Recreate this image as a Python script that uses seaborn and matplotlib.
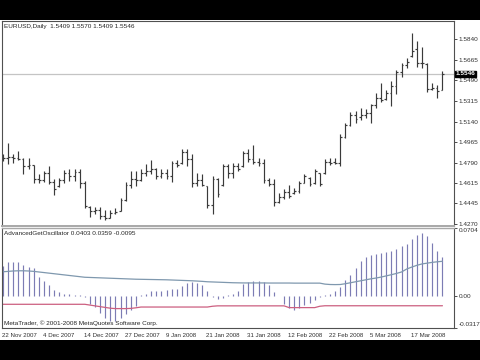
import matplotlib
matplotlib.use("Agg")
import matplotlib.pyplot as plt
import matplotlib.transforms as mtransforms
import seaborn as sns
import numpy as np
import pandas as pd

sns.set_style("white")
plt.rcParams['font.family'] = ['Liberation Sans', 'DejaVu Sans']

# ---------------- data ----------------
opens = [1.4840, 1.4830, 1.4840, 1.4830, 1.4825, 1.4760, 1.4770, 1.4650, 1.4640, 1.4700,
         1.4630, 1.4590, 1.4640, 1.4700, 1.4680, 1.4710, 1.4620, 1.4410, 1.4380, 1.4390,
         1.4340, 1.4320, 1.4360, 1.4380, 1.4470, 1.4600, 1.4650, 1.4640, 1.4700, 1.4720,
         1.4740, 1.4680, 1.4700, 1.4680, 1.4790, 1.4790, 1.4880, 1.4820, 1.4620, 1.4640,
         1.4590, 1.4430, 1.4650, 1.4600, 1.4760, 1.4700, 1.4760, 1.4760, 1.4870, 1.4820,
         1.4800, 1.4790, 1.4640, 1.4610, 1.4460, 1.4500, 1.4540, 1.4530, 1.4550, 1.4620,
         1.4660, 1.4620, 1.4700, 1.4700, 1.4800, 1.4800, 1.4790, 1.5010, 1.5110, 1.5200,
         1.5180, 1.5200, 1.5210, 1.5280, 1.5340, 1.5330, 1.5380, 1.5440, 1.5560, 1.5620,
         1.5700, 1.5760, 1.5640, 1.5630, 1.5420, 1.5430, 1.5409]
highs = [1.4866, 1.4960, 1.4866, 1.4891, 1.4831, 1.4831, 1.4772, 1.4694, 1.4720, 1.4763,
         1.4651, 1.4660, 1.4729, 1.4737, 1.4737, 1.4737, 1.4634, 1.4420, 1.4411, 1.4411,
         1.4386, 1.4386, 1.4403, 1.4489, 1.4626, 1.4720, 1.4720, 1.4737, 1.4780, 1.4814,
         1.4746, 1.4737, 1.4737, 1.4806, 1.4814, 1.4908, 1.4908, 1.4866, 1.4703, 1.4694,
         1.4591, 1.4677, 1.4660, 1.4780, 1.4780, 1.4789, 1.4789, 1.4891, 1.4908, 1.4943,
         1.4831, 1.4823, 1.4660, 1.4651, 1.4531, 1.4566, 1.4600, 1.4574, 1.4634, 1.4694,
         1.4669, 1.4737, 1.4703, 1.4823, 1.4831, 1.4831, 1.5037, 1.5131, 1.5225, 1.5234,
         1.5260, 1.5251, 1.5294, 1.5380, 1.5465, 1.5406, 1.5483, 1.5577, 1.5637, 1.5680,
         1.5894, 1.5825, 1.5774, 1.5637, 1.5465, 1.5448, 1.5570]
lows = [1.4806, 1.4780, 1.4789, 1.4814, 1.4695, 1.4737, 1.4617, 1.4617, 1.4626, 1.4609,
        1.4514, 1.4583, 1.4617, 1.4634, 1.4634, 1.4574, 1.4403, 1.4326, 1.4351, 1.4309,
        1.4300, 1.4317, 1.4351, 1.4377, 1.4463, 1.4574, 1.4591, 1.4634, 1.4677, 1.4694,
        1.4651, 1.4660, 1.4651, 1.4626, 1.4754, 1.4780, 1.4763, 1.4583, 1.4591, 1.4591,
        1.4403, 1.4351, 1.4497, 1.4591, 1.4660, 1.4660, 1.4720, 1.4754, 1.4797, 1.4780,
        1.4763, 1.4617, 1.4591, 1.4420, 1.4446, 1.4480, 1.4489, 1.4523, 1.4531, 1.4617,
        1.4591, 1.4609, 1.4591, 1.4694, 1.4771, 1.4780, 1.4763, 1.5003, 1.5105, 1.5131,
        1.5157, 1.5174, 1.5131, 1.5260, 1.5303, 1.5320, 1.5277, 1.5371, 1.5517, 1.5594,
        1.5688, 1.5603, 1.5594, 1.5389, 1.5406, 1.5337, 1.5409]
closes = [1.4830, 1.4840, 1.4830, 1.4825, 1.4760, 1.4770, 1.4650, 1.4640, 1.4700, 1.4630,
          1.4570, 1.4640, 1.4700, 1.4680, 1.4710, 1.4620, 1.4420, 1.4380, 1.4390, 1.4340,
          1.4320, 1.4360, 1.4370, 1.4470, 1.4600, 1.4650, 1.4640, 1.4700, 1.4720, 1.4740,
          1.4680, 1.4700, 1.4680, 1.4790, 1.4770, 1.4880, 1.4820, 1.4620, 1.4640, 1.4600,
          1.4430, 1.4650, 1.4520, 1.4760, 1.4700, 1.4760, 1.4740, 1.4870, 1.4820, 1.4800,
          1.4790, 1.4640, 1.4610, 1.4460, 1.4500, 1.4540, 1.4510, 1.4550, 1.4620, 1.4680,
          1.4610, 1.4720, 1.4610, 1.4800, 1.4790, 1.4790, 1.5010, 1.5110, 1.5200, 1.5160,
          1.5200, 1.5210, 1.5280, 1.5340, 1.5320, 1.5380, 1.5440, 1.5560, 1.5620, 1.5650,
          1.5740, 1.5640, 1.5640, 1.5420, 1.5430, 1.5400, 1.5546]

osc_hist = [0.0306, 0.0347, 0.0350, 0.0350, 0.0320, 0.0300, 0.0290, 0.0195, 0.0160, 0.0114,
            0.0070, 0.0044, 0.0030, 0.0020, 0.0012, 0.0010, -0.0005, -0.0080, -0.0110, -0.0170,
            -0.0220, -0.0250, -0.0250, -0.0220, -0.0180, -0.0140, -0.0100, 0.0010, 0.0030, 0.0055,
            0.0060, 0.0060, 0.0064, 0.0075, 0.0080, 0.0110, 0.0138, 0.0150, 0.0140, 0.0120,
            0.0054, -0.0010, -0.0025, -0.0015, 0.0010, 0.0030, 0.0060, 0.0126, 0.0150, 0.0162,
            0.0162, 0.0152, 0.0120, 0.0050, 0.0003, -0.0080, -0.0120, -0.0140, -0.0118, -0.0090,
            -0.0066, -0.0037, -0.0010, 0.0013, 0.0030, 0.0060, 0.0098, 0.0165, 0.0220, 0.0290,
            0.0357, 0.0400, 0.0424, 0.0434, 0.0447, 0.0451, 0.0465, 0.0485, 0.0515, 0.0540,
            0.0586, 0.0626, 0.0643, 0.0616, 0.0548, 0.0465, 0.0403]
osc_upper = [0.0252, 0.0256, 0.0260, 0.0262, 0.0262, 0.0260, 0.0256, 0.0250, 0.0244, 0.0238,
             0.0232, 0.0226, 0.0220, 0.0214, 0.0208, 0.0202, 0.0196, 0.0194, 0.0192, 0.0190,
             0.0188, 0.0186, 0.0184, 0.0182, 0.0180, 0.0178, 0.0176, 0.0175, 0.0174, 0.0173,
             0.0172, 0.0171, 0.0170, 0.0168, 0.0166, 0.0164, 0.0162, 0.0160, 0.0157, 0.0154,
             0.0150, 0.0148, 0.0146, 0.0144, 0.0142, 0.0140, 0.0139, 0.0138, 0.0138, 0.0138,
             0.0138, 0.0138, 0.0137, 0.0137, 0.0137, 0.0137, 0.0137, 0.0136, 0.0136, 0.0136,
             0.0136, 0.0136, 0.0136, 0.0126, 0.0122, 0.0121, 0.0122, 0.0130, 0.0140, 0.0150,
             0.0160, 0.0170, 0.0180, 0.0188, 0.0198, 0.0210, 0.0222, 0.0235, 0.0250, 0.0280,
             0.0300, 0.0318, 0.0332, 0.0340, 0.0348, 0.0354, 0.0359]
osc_lower = [-0.0080, -0.0080, -0.0080, -0.0080, -0.0080, -0.0080, -0.0080, -0.0080, -0.0080, -0.0080,
             -0.0080, -0.0080, -0.0080, -0.0080, -0.0080, -0.0080, -0.0080, -0.0088, -0.0096, -0.0104,
             -0.0112, -0.0120, -0.0124, -0.0124, -0.0124, -0.0122, -0.0116, -0.0108, -0.0108, -0.0108,
             -0.0108, -0.0108, -0.0108, -0.0108, -0.0108, -0.0108, -0.0108, -0.0108, -0.0108, -0.0108,
             -0.0108, -0.0100, -0.0096, -0.0096, -0.0096, -0.0096, -0.0096, -0.0096, -0.0096, -0.0096,
             -0.0096, -0.0096, -0.0096, -0.0096, -0.0096, -0.0096, -0.0114, -0.0114, -0.0114, -0.0114,
             -0.0114, -0.0114, -0.0100, -0.0095, -0.0095, -0.0095, -0.0095, -0.0095, -0.0095, -0.0095,
             -0.0095, -0.0095, -0.0095, -0.0095, -0.0095, -0.0095, -0.0095, -0.0095, -0.0095, -0.0095,
             -0.0095, -0.0095, -0.0095, -0.0095, -0.0095, -0.0095, -0.0095]

date_labels = ["22 Nov 2007", "4 Dec 2007", "14 Dec 2007", "27 Dec 2007", "9 Jan 2008",
               "21 Jan 2008", "31 Jan 2008", "12 Feb 2008", "22 Feb 2008", "5 Mar 2008",
               "17 Mar 2008"]
date_pos = [0, 8, 16, 24, 32, 40, 48, 56, 64, 72, 80]
price_ticks = [1.5840, 1.5665, 1.5490, 1.5315, 1.5140, 1.4965, 1.4790, 1.4615, 1.4445, 1.4270]
price_tick_labels = ["1.5840", "1.5665", "1.5490", "1.5315", "1.5140", "1.4965", "1.4790",
                     "1.4615", "1.4445", "1.4270"]
osc_ticks = [0.0704, 0.0, -0.0317]
osc_tick_labels = ["0.0704", "0.00", "-0.0317"]
last_close = 1.5546
title_price = "EURUSD,Daily  1.5409 1.5570 1.5409 1.5546"
title_osc = "AdvancedGetOscillator 0.0403 0.0359 -0.0095"
copyright_text = "MetaTrader, \u00a9 2001-2008 MetaQuotes Software Corp."

df = pd.DataFrame({"bar": np.arange(len(opens)), "open": opens, "high": highs,
                   "low": lows, "close": closes, "hist": osc_hist,
                   "upper": osc_upper, "lower": osc_lower})

# ---------------- layout ----------------
W, H = 480, 360
FS = 4.6
TXT = "#262626"
BAR = "#3a3a3a"
fig = plt.figure(figsize=(4.8, 3.6), dpi=100, facecolor="black")


def frame(x0, y0, x1, y1):
    return [x0 / W, 1 - y1 / H, (x1 - x0) / W, (y1 - y0) / H]


bg = fig.add_axes(frame(0, 20, 480, 340))
bg.set_facecolor("white")
bg.set_xticks([]); bg.set_yticks([])
for s in bg.spines.values():
    s.set_visible(False)

ax1 = fig.add_axes(frame(2, 21, 454, 225.5))
ax2 = fig.add_axes(frame(2, 227.5, 454, 327.5))
xlim = (-0.2, 88.26)

# ---------------- price panel ----------------
x = df["bar"].values
ax1.vlines(x, df["low"], df["high"], color=BAR, lw=0.85)
ax1.hlines(df["open"], x - 0.36, x, color=BAR, lw=0.85)
ax1.hlines(df["close"], x, x + 0.36, color=BAR, lw=0.85)
ax1.axhline(last_close, color="#c4c4c4", lw=0.9, zorder=0)
ax1.set_xlim(*xlim)
ax1.set_ylim(1.42560, 1.59961)
ax1.set_xticks([])
ax1.yaxis.tick_right()
ax1.set_yticks(price_ticks)
ax1.set_yticklabels(price_tick_labels, fontsize=FS, color=TXT)
ax1.tick_params(axis="y", length=2, width=0.6, pad=1.5, colors="#303030")
ax1.set_facecolor("white")
for name, s in ax1.spines.items():
    s.set_linewidth(0.8)
    s.set_color("#505050")
ax1.spines["bottom"].set_color("#a8a8a8")
ax1.spines["bottom"].set_linewidth(1.4)

ax1.text(1.004, last_close, "1.5546", transform=ax1.get_yaxis_transform(),
         ha="left", va="center", fontsize=FS, color="white", fontweight="bold",
         bbox=dict(boxstyle="square,pad=0.08", facecolor="black", edgecolor="black"),
         clip_on=False, zorder=5)
fig.text(4.5 / W, 1 - 26.7 / H, title_price, fontsize=FS, color=TXT, va="center")

# ---------------- oscillator panel ----------------
ax2.vlines(x, 0, df["hist"], color="#7c7cb4", lw=0.85)
sns.lineplot(data=df, x="bar", y="upper", ax=ax2, color="#7f98ae", lw=0.9)
sns.lineplot(data=df, x="bar", y="lower", ax=ax2, color="#cc5f80", lw=0.9)
ax2.set_xlim(*xlim)
ax2.set_ylim(-0.0317, 0.0704)
ax2.set_xlabel(""); ax2.set_ylabel("")
ax2.yaxis.tick_right()
ax2.set_yticks(osc_ticks)
ax2.set_yticklabels(osc_tick_labels, fontsize=FS, color=TXT)
ax2.tick_params(axis="y", length=2, width=0.6, pad=1.5, colors="#303030")
ylabs = ax2.get_yticklabels()
ylabs[0].set_va("top")
ylabs[2].set_va("bottom")
ax2.set_xticks(date_pos)
ax2.set_xticklabels(date_labels, fontsize=4.4, color=TXT, ha="left")
ax2.tick_params(axis="x", length=2.5, width=0.6, pad=1.8, colors="#303030")
off = mtransforms.ScaledTranslation(-1.0 / 100, 0, fig.dpi_scale_trans)
for lab in ax2.get_xticklabels():
    lab.set_transform(lab.get_transform() + off)
for name, s in ax2.spines.items():
    s.set_linewidth(0.8)
    s.set_color("#505050")
ax2.spines["top"].set_color("#a8a8a8")
ax2.spines["top"].set_linewidth(1.0)
ax2.set_facecolor("white")

fig.text(4.5 / W, 1 - 233.5 / H, title_osc, fontsize=FS, color=TXT, va="center")
fig.text(4.0 / W, 1 - 323.0 / H, copyright_text, fontsize=FS, color=TXT, va="center")

fig.savefig("out.png", dpi=100, facecolor="black")
